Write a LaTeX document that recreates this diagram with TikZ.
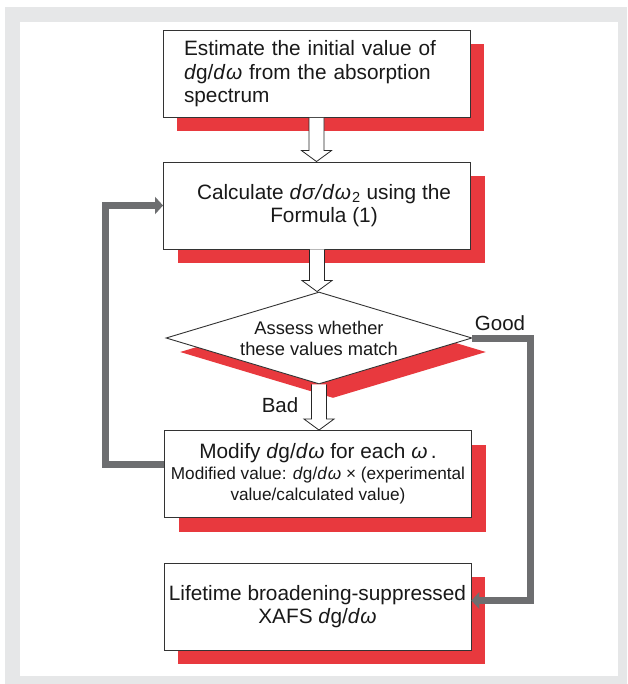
\documentclass[tikz,border=0pt]{standalone}
\usepackage{fontspec}
\setmainfont{Liberation Sans}
\usetikzlibrary{shapes.geometric}
\usetikzlibrary{shadows}
\usetikzlibrary{calc}
\usetikzlibrary{arrows.meta}
\definecolor{shred}{HTML}{E8393E}
\definecolor{loopgray}{HTML}{6D6E70}
\definecolor{framegray}{HTML}{E6E7E8}
\newcommand{\dgdw}{\textit{d}g/\textit{d\kern1pt ω}}
\newcommand{\dsdw}{\textit{d\kern1pt σ\kern1pt/\kern1pt d\kern1pt ω}\textsubscript{\kern1pt 2}}
\newcommand{\hollowarrow}[2]{%
  \filldraw[fill=white, draw=black!85, line width=0.8pt] let \p1=(#1.south), \p2=(#2.north) in
    (\x1-7.5pt,\y1) -- (\x1-7.5pt,\y2+11pt) -- (\x1-15pt,\y2+11pt) -- (\x1,\y2)
    -- (\x1+15pt,\y2+11pt) -- (\x1+7.5pt,\y2+11pt) -- (\x1+7.5pt,\y1);}

\begin{document}
\begin{tikzpicture}[x=1pt, y=-1pt,
    stepbox/.style={rectangle, draw=black!80, line width=0.9pt, fill=white,
      minimum width=307pt, minimum height=87pt, inner sep=0pt, text=black!90,
      font=\fontsize{20.8}{23.5}\selectfont,
      drop shadow={opacity=1, fill=shred, shadow xshift=14pt, shadow yshift=-14pt}},
    checkbox/.style={diamond, draw=black!80, line width=0.9pt, fill=white,
      minimum width=306pt, minimum height=92pt, inner sep=0pt, aspect=3.3, text=black!90,
      font=\fontsize{18.3}{21}\selectfont,
      drop shadow={opacity=1, fill=shred, shadow xshift=14pt, shadow yshift=-14pt}},
    loopline/.style={draw=loopgray, line width=7pt, -{Triangle[length=8pt, width=17pt]}},
    tagtext/.style={text=black!90, font=\fontsize{20.5}{23}\selectfont}]
    % - Frame
    \fill[white] (0,0) rectangle (627,684);
    \fill[framegray] (5,7) rectangle (627,684);
    \fill[white] (20,22) rectangle (618,676);
    \useasboundingbox (0,0) rectangle (627,684);
    % - Boxes
    \node[stepbox, align=left, text width=265pt] (est) at (316.5,74)
      {Estimate the initial value of\\ \dgdw{} from the absorption\\ spectrum};
    \node[stepbox, align=center] (calc) at (317,205.5)
      {\hspace*{14pt}Calculate \dsdw{} using the\\ \hspace*{14pt}Formula (1)};
    \node[checkbox, align=center] (chk) at (319,338)
      {Assess whether\\ these values match};
    \node[stepbox, align=center, font=\fontsize{20.8}{21}\selectfont] (mod) at (318,474)
      {Modify \dgdw{} for each \textit{ω}\,.\\
       {\fontsize{17.2}{20}\selectfont Modified value: \dgdw{} × (experimental}\\
       {\fontsize{17.2}{20}\selectfont value/calculated value)}};
    \node[stepbox, align=center] (res) at (317.5,606.5)
      {Lifetime broadening-suppressed\\ XAFS \dgdw};
    % - Hollow arrows
    \hollowarrow{est}{calc}
    \hollowarrow{calc}{chk}
    \hollowarrow{chk}{mod}
    % - Gray loop lines
    \draw[loopline] ([yshift=10pt]mod.west) -- ++(-59,0) |- (calc.west);
    \draw[loopline] (chk.east) -- ++(58,0) |- ([yshift=6pt]res.east);
    % - Labels
    \node[tagtext] (good) at (500,323) {Good};
    \node[tagtext] (bad) at (280,405) {Bad};
\end{tikzpicture}
\end{document}
